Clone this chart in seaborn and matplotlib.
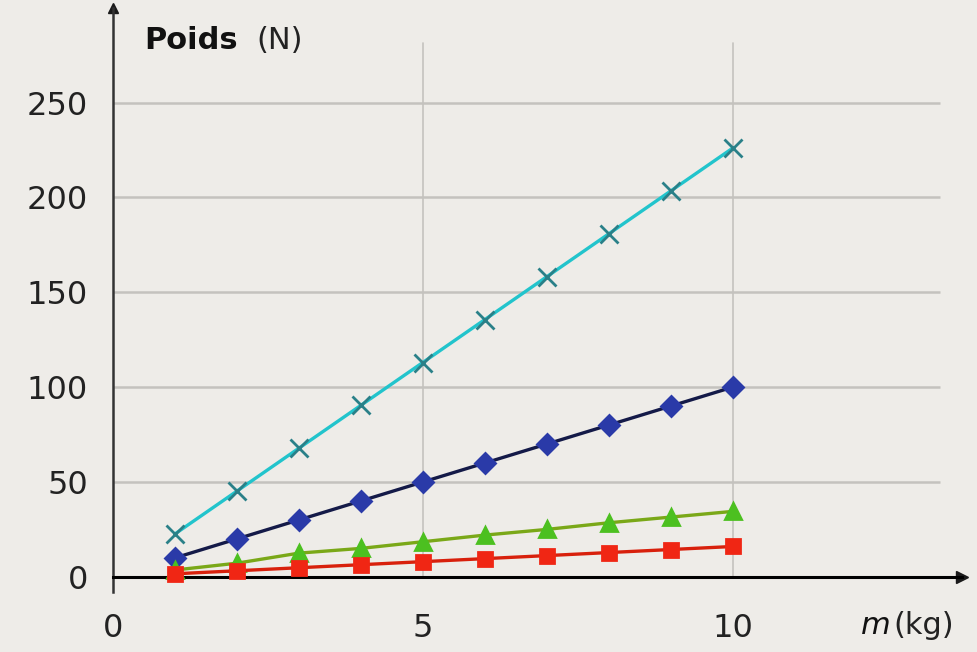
import matplotlib
matplotlib.use('Agg')
import matplotlib.pyplot as plt
import seaborn as sns
import pandas as pd

# masses (kg) et poids (N)
masse = [1, 2, 3, 4, 5, 6, 7, 8, 9, 10]
poids_croix = [22.6, 45.2, 67.8, 90.4, 113.0, 135.6, 158.2, 180.8, 203.4, 226.0]
poids_losange = [10, 20, 30, 40, 50, 60, 70, 80, 90, 100]
poids_triangle = [3.6, 7.2, 12.5, 15.0, 18.5, 22.0, 25.0, 28.5, 31.5, 34.5]
poids_carre = [1.6, 3.2, 4.8, 6.4, 8.0, 9.6, 11.2, 12.8, 14.4, 16.0]

y_ticks = [0, 50, 100, 150, 200, 250]
x_ticks = [0, 5, 10]

bg = '#eeece8'
grid_c = '#c4c2be'
sns.set_theme(style="white")
plt.rcParams['font.family'] = ['DejaVu Sans']

fig = plt.figure(figsize=(9.78, 6.52), dpi=100, facecolor=bg)
ax = fig.add_axes([0.1155, 0.092, 0.868, 0.896], facecolor=bg)

series = [
    (poids_croix, '#22c4cc', 'x', '#2a8088', 13),
    (poids_losange, '#141a48', 'D', '#2a3aa8', 10),
    (poids_triangle, '#7aa818', '^', '#4cc020', 11),
    (poids_carre, '#d8200c', 's', '#f02614', 10),
]
for vals, lc, mk, mc, ms in series:
    df = pd.DataFrame({'m': masse, 'P': vals})
    sns.lineplot(data=df, x='m', y='P', ax=ax, color=lc, linewidth=2.4,
                 marker=mk, markersize=ms, markerfacecolor=mc,
                 markeredgecolor=mc, markeredgewidth=2.0, zorder=3)

ax.set_xlim(0, 13.7)
ax.set_ylim(-8, 300)
ax.set_xticks(x_ticks)
ax.set_yticks(y_ticks)
ax.set_xlabel('')
ax.set_ylabel('')

# quadrillage
ax.hlines(y_ticks[1:], 0, 13.35, color=grid_c, linewidth=1.8, zorder=0)
for xv in x_ticks[1:]:
    ax.axvline(xv, ymin=0.026, ymax=0.94, color=grid_c, linewidth=1.2, zorder=0)

for s in ['top', 'right']:
    ax.spines[s].set_visible(False)
ax.spines['bottom'].set_position(('data', 0))
ax.spines['left'].set_position(('data', 0))
ax.spines['bottom'].set_color('black')
ax.spines['left'].set_color('#333333')
ax.spines['bottom'].set_linewidth(2.2)
ax.spines['left'].set_linewidth(1.8)

ax.plot(1, 0, '>k', markersize=9, transform=ax.get_yaxis_transform(), clip_on=False)
ax.plot(0, 1, '^k', markersize=7, transform=ax.get_xaxis_transform(), clip_on=False)

ax.tick_params(axis='y', direction='out', length=5, width=1.5, labelsize=23, pad=13, colors='#222222')
ax.tick_params(axis='x', direction='out', length=10, width=1.5, labelsize=23, pad=16, colors='#222222')

fig.text(0.148, 0.938, 'Poids', fontsize=22, fontweight='bold', color='#111111', va='center')
fig.text(0.262, 0.938, '(N)', fontsize=22, color='#222222', va='center')
fig.text(0.880, 0.041, 'm', fontsize=22, style='italic', color='#111111', va='center')
fig.text(0.913, 0.041, '(kg)', fontsize=22, color='#222222', va='center')

fig.savefig('out.png', dpi=100, facecolor=bg)
